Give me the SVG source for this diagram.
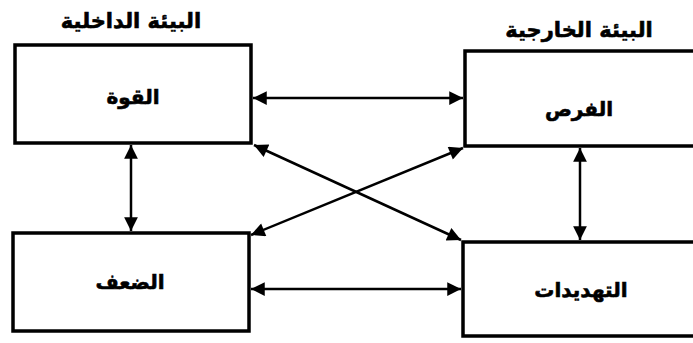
<svg xmlns="http://www.w3.org/2000/svg" width="693" height="343" viewBox="0 0 693 343">
  <style>
    .box { fill: #fff; stroke: #000; stroke-width: 3.5; }
    .lbl { font-family: "DejaVu Sans", sans-serif; font-weight: bold; font-size: 20px; text-anchor: middle; fill: #000; stroke: #000; stroke-width: 0.6; }
    .hdr { font-family: "DejaVu Sans", sans-serif; font-weight: bold; font-size: 21px; text-anchor: middle; fill: #000; stroke: #000; stroke-width: 0.6; }
    .link { stroke: #000; stroke-width: 2.5; fill: none; marker-start: url(#head); marker-end: url(#head); }
  </style>
  <defs>
    <marker id="head" viewBox="0 0 10 10" refX="10" refY="5" markerWidth="6.5" markerHeight="5.5" orient="auto-start-reverse" markerUnits="strokeWidth">
      <path d="M0,0 L10,5 L0,10 Z" fill="#000"/>
    </marker>
  </defs>

  <rect width="693" height="343" fill="#fff"/>

  <text class="hdr" x="131" y="28">البيئة الداخلية</text>
  <text class="hdr" x="579" y="37">البيئة الخارجية</text>

  <g id="strength">
    <rect class="box" x="15" y="45" width="236" height="98"/>
    <text class="lbl" x="133" y="104">القوة</text>
  </g>
  <g id="opportunities">
    <rect class="box" x="465" y="51" width="240" height="95"/>
    <text class="lbl" x="579" y="116">الفرص</text>
  </g>
  <g id="weakness">
    <rect class="box" x="13" y="233" width="236" height="98"/>
    <text class="lbl" x="130" y="289">الضعف</text>
  </g>
  <g id="threats">
    <rect class="box" x="463" y="242" width="240" height="94"/>
    <text class="lbl" x="581" y="297">التهديدات</text>
  </g>

  <g id="connectors">
    <line class="link" x1="253" y1="98" x2="463" y2="98"/>
    <line class="link" x1="251" y1="289" x2="461" y2="289"/>
    <line class="link" x1="131" y1="145" x2="131" y2="231"/>
    <line class="link" x1="580" y1="148" x2="580" y2="240"/>
    <line class="link" x1="254" y1="145" x2="461" y2="240"/>
    <line class="link" x1="463" y1="148" x2="251" y2="235"/>
  </g>
</svg>
